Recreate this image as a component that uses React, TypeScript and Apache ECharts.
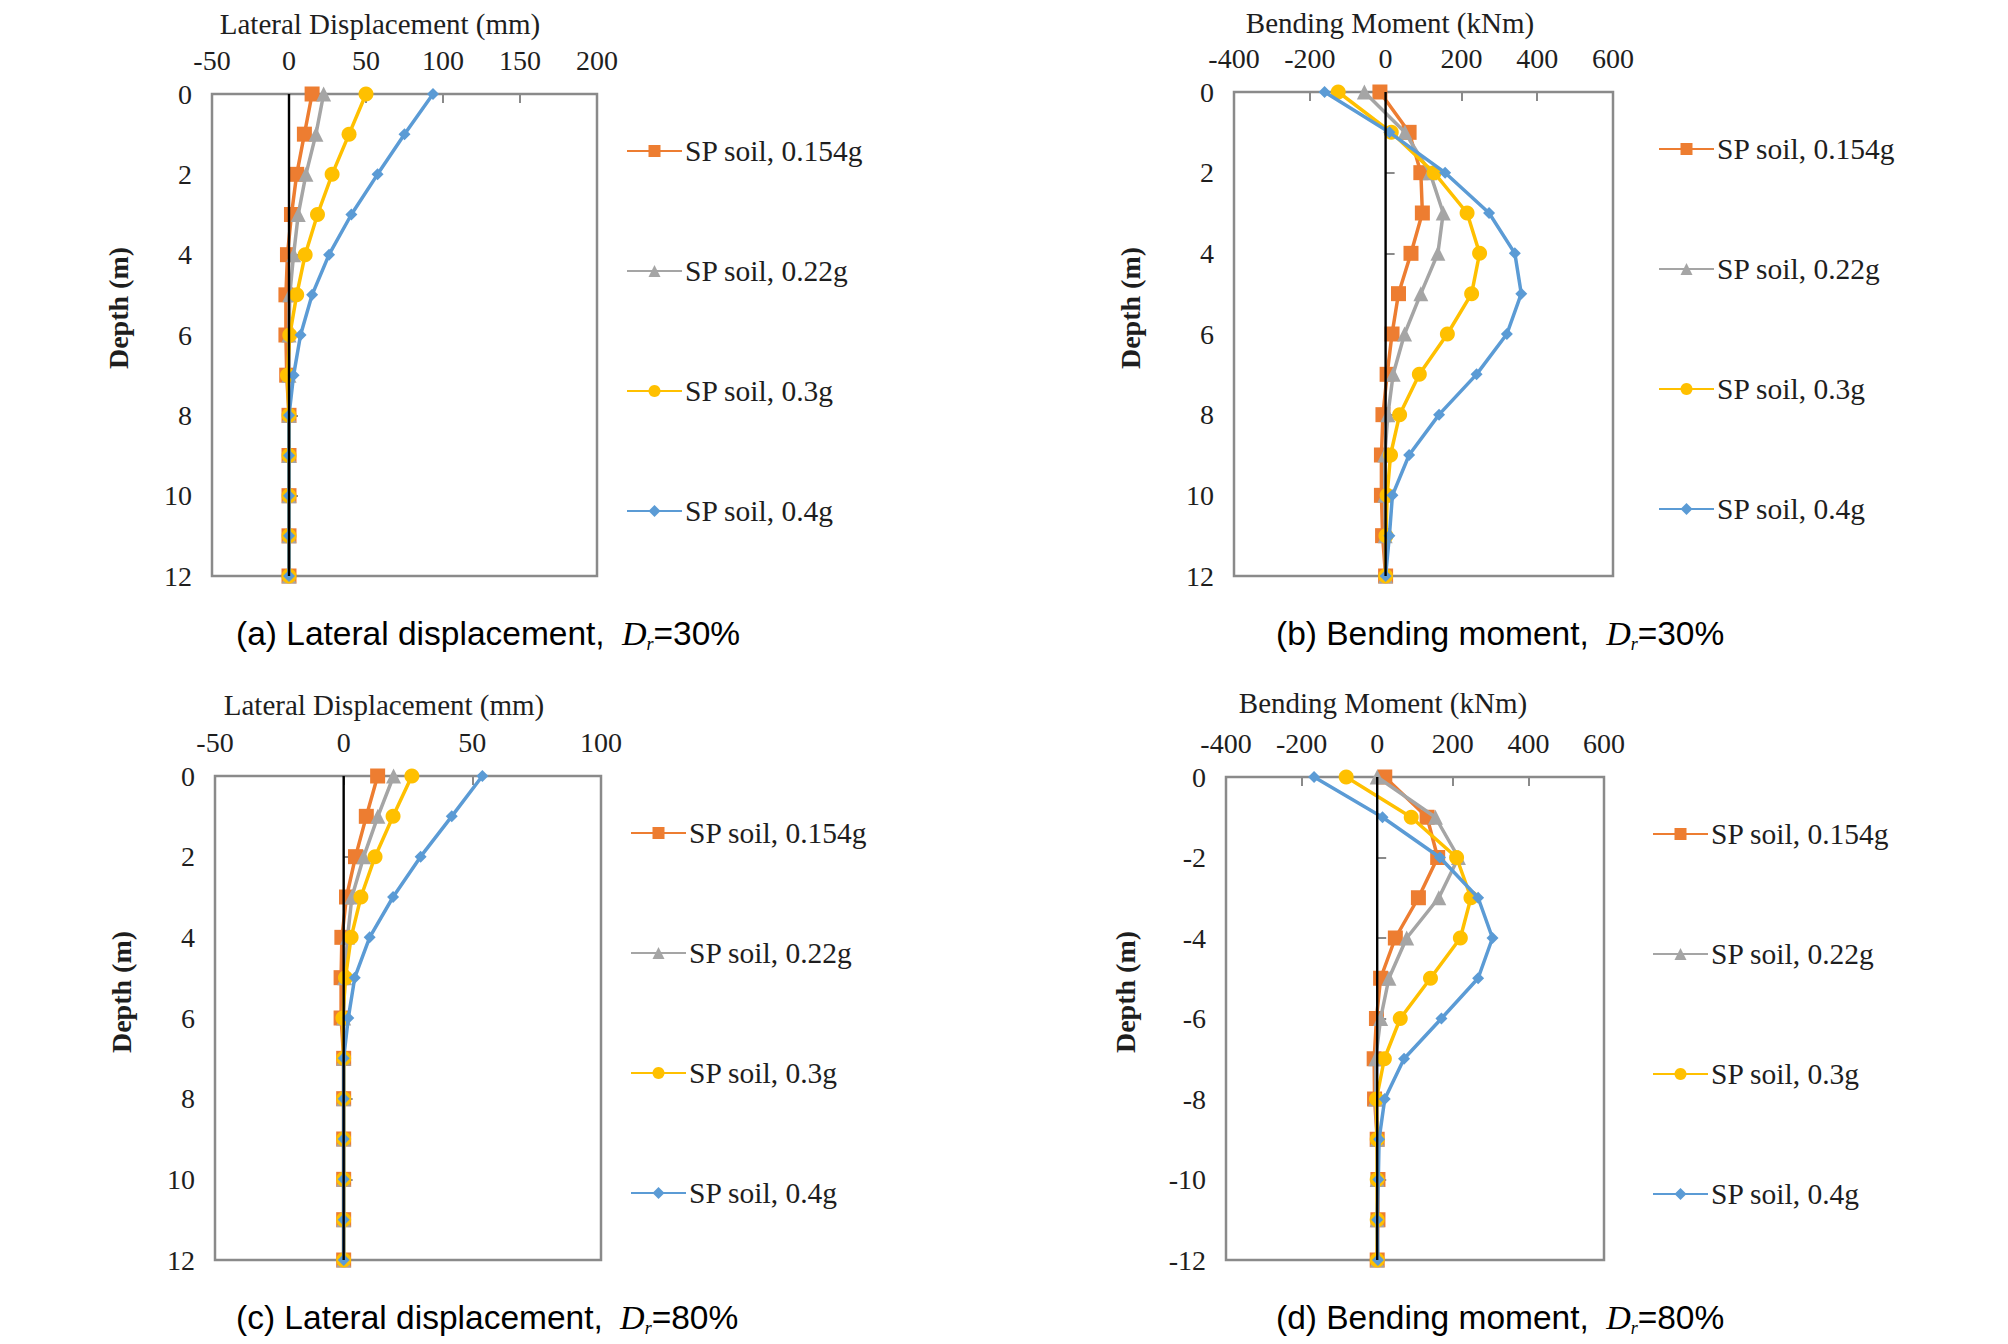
import React, { useEffect, useRef } from "react";
import * as echarts from "echarts";

// ---------- data ----------
const DEPTHS = [0, 1, 2, 3, 4, 5, 6, 7, 8, 9, 10, 11, 12];
const SERIES_NAMES = ["SP soil, 0.154g", "SP soil, 0.22g", "SP soil, 0.3g", "SP soil, 0.4g"];

// (a) lateral displacement, Dr = 30% (mm)
const A_0154 = [15, 10, 5, 1.6, -1, -2, -2, -1.5, 0, 0, 0, 0, 0];
const A_022 = [22.5, 17.5, 11, 6, 3, 0.5, 0, 0, 0, 0, 0, 0, 0];
const A_03 = [50, 39, 28, 18.5, 10.5, 5, 0.5, -1, 0, 0, 0, 0, 0];
const A_04 = [93.5, 75, 57.5, 40.5, 26, 15, 7.5, 3, 0, 0, 0, 0, 0];

// (b) bending moment, Dr = 30% (kNm)
const B_0154 = [-15, 62, 93, 97, 67, 34, 17, 4, -7, -11, -11, -8, 0];
const B_022 = [-56, 51, 117, 152, 138, 93, 50, 20, 6, -2, -2, -1, 0];
const B_03 = [-125, 15, 128, 215, 248, 227, 163, 89, 37, 13, 4, 1, 0];
const B_04 = [-161, 10, 157, 273, 341, 358, 320, 240, 141, 62, 18, 10, 0];

// (c) lateral displacement, Dr = 80% (mm)
const C_0154 = [13.2, 8.8, 4.6, 1.1, -0.7, -1, -1, 0, 0, 0, 0, 0, 0];
const C_022 = [19.4, 13.3, 7.8, 3.2, 1.5, 0.4, 0, 0, 0, 0, 0, 0, 0];
const C_03 = [26.5, 19.2, 12.2, 6.7, 2.9, 0.7, -0.3, 0, 0, 0, 0, 0, 0];
const C_04 = [53.9, 42, 29.9, 19.2, 10.1, 4.3, 1.8, 0, 0, 0, 0, 0, 0];

// (d) bending moment, Dr = 80% (kNm)
const D_0154 = [20, 132, 160, 109, 48, 9, -2, -8, -7, 0, 2, 2, 0];
const D_022 = [0, 154, 215, 163, 78, 31, 9, -4, -4, 0, 0, 0, 0];
const D_03 = [-82, 90, 210, 248, 220, 141, 61, 19, -2, 0, 0, 0, 0];
const D_04 = [-167, 14, 166, 267, 305, 267, 170, 71, 20, 5, 3, 0, 2];

// pile reference line (x = 0 from top to tip)
const PILE_X = [0, 0];
const PILE_DEPTH = [0, 12];

// tick labels
const DEPTH_LABELS = ["0", "2", "4", "6", "8", "10", "12"];
const DEPTH_LABELS_NEG = ["0", "-2", "-4", "-6", "-8", "-10", "-12"];

const AXIS_TITLES = ["Lateral Displacement (mm)", "Bending Moment (kNm)", "Lateral Displacement (mm)", "Bending Moment (kNm)"];
const CAPTION_MAIN = ["(a) Lateral displacement, ", "(b) Bending moment, ", "(c) Lateral displacement, ", "(d) Bending moment, "];
const CAPTION_DR = ["=30%", "=30%", "=80%", "=80%"];

// ---------- styles ----------
const COLORS = ["#ED7D31", "#A5A5A5", "#FFC000", "#5B9BD5"];
const SYMBOLS = ["rect", "triangle", "circle", "diamond"];
const SYMBOL_SIZES = [15, 15, 15, 12];
const SERIF = '"Liberation Serif", "Times New Roman", serif';
const SANS = '"Liberation Sans", Arial, sans-serif';

const GRIDS = [
  { left: 204, top: 86, width: 385, height: 482 },
  { left: 1226, top: 84, width: 379, height: 484 },
  { left: 207, top: 768, width: 386, height: 484 },
  { left: 1218, top: 769, width: 378, height: 483 },
];
const X_RANGES = [
  { min: -50, max: 200, interval: 50 },
  { min: -400, max: 600, interval: 200 },
  { min: -50, max: 100, interval: 50 },
  { min: -400, max: 600, interval: 200 },
];
const PANEL_DATA = [
  [A_0154, A_022, A_03, A_04],
  [B_0154, B_022, B_03, B_04],
  [C_0154, C_022, C_03, C_04],
  [D_0154, D_022, D_03, D_04],
];
const TITLE_POS = [
  [372, 16],
  [1382, 15],
  [376, 697],
  [1375, 695],
];
const YNAME_POS = [
  [110, 300],
  [1122, 300],
  [113, 984],
  [1117, 984],
];
const LEGEND_POS = [
  [618, 128],
  [1650, 126],
  [622, 810],
  [1644, 811],
];
const CAPTION_POS = [
  [228, 605],
  [1268, 605],
  [228, 1289],
  [1268, 1289],
];

function buildOption() {
  const grid = GRIDS.map((g) => ({
    ...g,
    show: true,
    borderColor: "#8a8a8a",
    borderWidth: 2.5,
    backgroundColor: "transparent",
    containLabel: false,
  }));

  const xAxis = X_RANGES.map((r, i) => ({
    type: "value",
    gridIndex: i,
    position: "top",
    min: r.min,
    max: r.max,
    interval: r.interval,
    axisLine: { show: false },
    axisTick: { show: true, inside: true, length: 9, lineStyle: { color: "#8a8a8a", width: 2 } },
    splitLine: { show: false },
    axisLabel: { fontFamily: SERIF, fontSize: 28, color: "#1e1e1e", margin: 20 },
  }));

  const yAxis = GRIDS.map((_, i) => ({
    type: "value",
    gridIndex: i,
    inverse: true,
    min: 0,
    max: 12,
    interval: 2,
    axisLine: { show: false },
    axisTick: { show: true, inside: true, length: 9, lineStyle: { color: "#8a8a8a", width: 2 } },
    splitLine: { show: false },
    axisLabel: {
      fontFamily: SERIF,
      fontSize: 28,
      color: "#1e1e1e",
      margin: 20,
      formatter: (v: number) => {
        const idx = Math.round(v / 2);
        return i === 3 ? DEPTH_LABELS_NEG[idx] : DEPTH_LABELS[idx];
      },
    },
  }));

  const series: any[] = [];
  PANEL_DATA.forEach((panel, gi) => {
    panel.forEach((vals, si) => {
      series.push({
        type: "line",
        name: SERIES_NAMES[si],
        xAxisIndex: gi,
        yAxisIndex: gi,
        data: vals.map((v, k) => [v, DEPTHS[k]]),
        symbol: SYMBOLS[si],
        symbolSize: SYMBOL_SIZES[si],
        showSymbol: true,
        lineStyle: { color: COLORS[si], width: 3.5 },
        itemStyle: { color: COLORS[si], borderWidth: 0 },
        emphasis: { disabled: true },
        z: 3 + si,
      });
    });
    series.push({
      type: "line",
      name: "pile",
      xAxisIndex: gi,
      yAxisIndex: gi,
      data: PILE_X.map((v, k) => [v, PILE_DEPTH[k]]),
      symbol: "none",
      lineStyle: { color: "#000000", width: 2.4 },
      emphasis: { disabled: true },
      z: 10,
    });
  });

  const legend = LEGEND_POS.map(([x, y]) => ({
    orient: "vertical",
    left: x,
    top: y,
    data: SERIES_NAMES,
    itemWidth: 55,
    itemHeight: 15,
    itemGap: 90,
    selectedMode: false,
    padding: 0,
    textStyle: { fontFamily: SERIF, fontSize: 29.5, color: "#1e1e1e", lineHeight: 29, padding: [0, 0, 0, -2] },
  }));

  const title = CAPTION_POS.map(([x, y], i) => ({
    left: x,
    top: y,
    padding: 0,
    text: CAPTION_MAIN[i] + "{d|D}{r|r}{e|" + CAPTION_DR[i] + "}",
    textStyle: {
      fontFamily: SANS,
      fontSize: 33.5,
      fontWeight: "normal",
      color: "#000",
      lineHeight: 40,
      rich: {
        d: { fontFamily: SERIF, fontStyle: "italic", fontSize: 34, color: "#000", lineHeight: 40, padding: [0, 0, 0, 8] },
        r: {
          fontFamily: SERIF,
          fontStyle: "italic",
          fontSize: 18,
          color: "#000",
          lineHeight: 16,
          verticalAlign: "bottom",
        },
        e: { fontFamily: SANS, fontSize: 33.5, color: "#000", lineHeight: 40 },
      },
    },
  }));

  const graphic: any[] = [];
  TITLE_POS.forEach(([x, y], i) => {
    graphic.push({
      type: "text",
      x,
      y,
      silent: true,
      style: {
        text: AXIS_TITLES[i],
        font: `29px ${SERIF}`,
        fill: "#1e1e1e",
        align: "center",
        verticalAlign: "middle",
      },
    });
  });
  YNAME_POS.forEach(([x, y]) => {
    graphic.push({
      type: "text",
      x,
      y,
      rotation: Math.PI / 2,
      silent: true,
      style: {
        text: "Depth (m)",
        font: `bold 28px ${SERIF}`,
        fill: "#1e1e1e",
        align: "center",
        verticalAlign: "middle",
      },
    });
  });

  return {
    animation: false,
    backgroundColor: "#ffffff",
    grid,
    xAxis,
    yAxis,
    series,
    legend,
    title,
    graphic,
    tooltip: { show: false },
  };
}

export default function App() {
  const ref = useRef<HTMLDivElement | null>(null);
  useEffect(() => {
    if (!ref.current) return;
    const chart = echarts.init(ref.current, undefined, { renderer: "svg" });
    chart.setOption(buildOption() as any);
    return () => {
      chart.dispose();
    };
  }, []);
  return (
    <div
      ref={ref}
      style={{ position: "fixed", left: 0, top: 0, width: 2008, height: 1344, background: "#fff" }}
    />
  );
}
